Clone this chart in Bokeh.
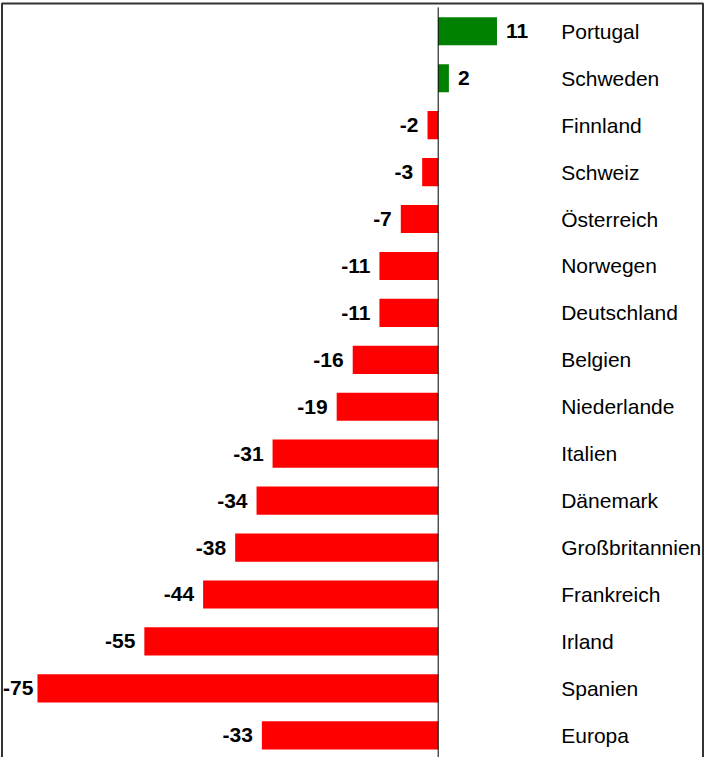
import numpy as np
from bokeh.plotting import figure
from bokeh.models import ColumnDataSource, Range1d
from bokeh.core.properties import value
from bokeh.embed import file_html
from bokeh.resources import INLINE

countries = ["Portugal", "Schweden", "Finnland", "Schweiz", "Österreich", "Norwegen",
             "Deutschland", "Belgien", "Niederlande", "Italien", "Dänemark",
             "Großbritannien", "Frankreich", "Irland", "Spanien", "Europa"]
values = [11, 2, -2, -3, -7, -11, -11, -16, -19, -31, -34, -38, -44, -55, -75, -33]

POS_COLOR = "#008000"
NEG_COLOR = "#FF0000"

W, H = 704, 757
x_start, x_end = -81.92, 49.84
y_start, y_end = -0.473, 15.656
px_x = W / (x_end - x_start)
px_y = H / (y_end - y_start)

n = len(countries)
ypos = [n - 1 - i for i in range(n)]
colors = [POS_COLOR if v >= 0 else NEG_COLOR for v in values]
labels = [str(v) for v in values]
aligns = ["left" if v >= 0 else "right" for v in values]
offsets = []
for v in values:
    if v >= 0:
        offsets.append(9)
    else:
        bar_left_px = (v - x_start) * px_x
        offsets.append(-4 if bar_left_px < 50 else -9)

src = ColumnDataSource(dict(y=ypos, v=values, color=colors, label=labels,
                            align=aligns, off=offsets, name=countries,
                            zero=[0] * n))

p = figure(width=W, height=H, output_backend="svg", toolbar_location=None,
           x_range=Range1d(x_start, x_end), y_range=Range1d(y_start, y_end),
           x_axis_type=None, y_axis_type=None, min_border=0,
           background_fill_color="white", border_fill_color="white")
p.grid.visible = False
p.outline_line_color = None

p.hbar(y="y", left="zero", right="v", height=0.6, fill_color="color",
       line_color=None, source=src)

# zero axis line
p.segment(x0=[0], y0=[y_start], x1=[0], y1=[n - 1 + 0.51],
          line_color="black", line_width=1)

p.text(x="v", y="y", text="label", text_align="align", x_offset="off",
       text_baseline="middle", text_font=value("Liberation Sans"),
       text_font_style="bold", text_font_size="21px", text_color="black",
       source=src)

p.text(x="zero", y="y", text="name", text_align="left", x_offset=123,
       text_baseline="middle", text_font=value("Liberation Sans"),
       text_font_size="21px", text_color="black", source=src)

# chart frame (open at the bottom), drawn just inside the canvas edges
inset_x = 1.5
inset_top = 3.0
fx0 = x_start + inset_x / px_x
fx1 = x_end - inset_x / px_x
fy1 = y_end - inset_top / px_y
p.line(x=[fx0, fx0, fx1, fx1], y=[y_start - 1, fy1, fy1, y_start - 1],
       line_color="#333333", line_width=2)

open("out.html", "w").write(file_html(p, INLINE))
